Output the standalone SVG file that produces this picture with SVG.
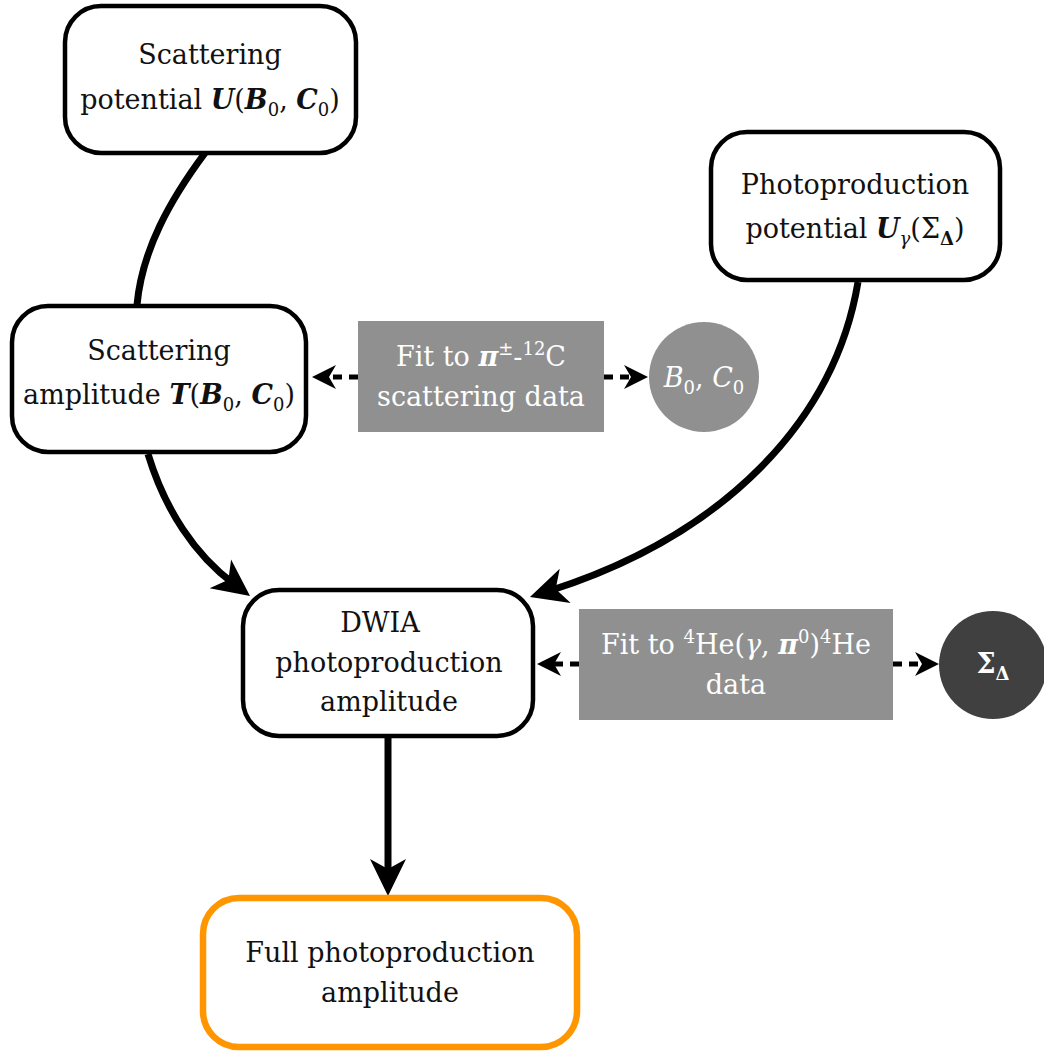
<svg xmlns="http://www.w3.org/2000/svg" width="1044" height="1055" viewBox="0 0 1044 1055">
<style>
.box{fill:#fff;stroke:#000;stroke-width:4.5}
.orange{fill:#fff;stroke:#FF9600;stroke-width:6.5}
.gray{fill:#909090}
.t{font-family:"DejaVu Serif","Liberation Serif",serif;font-size:27px;fill:#111;text-anchor:middle}
.w{fill:#fff}
.m{font-style:italic;font-weight:bold}
.i{font-style:italic}
.s{font-size:18px}
.solid{fill:none;stroke:#000;stroke-width:7}
.dash{fill:none;stroke:#000;stroke-width:5;stroke-dasharray:9 7}
</style>
<defs>
<marker id="big" viewBox="-40 -20 42 40" refX="-20" refY="0" markerWidth="42" markerHeight="40" markerUnits="userSpaceOnUse" orient="auto">
<path d="M0,0 L-37,-18 L-27,0 L-37,18 Z" fill="#000"/>
</marker>
<marker id="small" viewBox="-26 -14 28 28" refX="-12" refY="0" markerWidth="28" markerHeight="28" markerUnits="userSpaceOnUse" orient="auto">
<path d="M0,0 L-24,-12 L-17,0 L-24,12 Z" fill="#000"/>
</marker>
</defs>
<g id="connectors">
<path class="solid" d="M205,153 C170,200 142,250 137,305"/>
<path class="solid" d="M148,454 C165,510 195,555 234,584" marker-end="url(#big)"/>
<path class="solid" d="M858,282 C835,420 725,535 549,591" marker-end="url(#big)"/>
<path class="solid" d="M388,738 L388,876" marker-end="url(#big)"/>
<path class="dash" d="M358,377 L324,377" marker-end="url(#small)"/>
<path class="dash" d="M604,377 L636,377" marker-end="url(#small)"/>
<path class="dash" d="M579,664 L549,664" marker-end="url(#small)"/>
<path class="dash" d="M893,664 L927,664" marker-end="url(#small)"/>
</g>
<g id="scatt-pot">
<rect class="box" x="65" y="6" width="291" height="147" rx="36"/>
<text class="t" x="210" y="64">Scattering</text>
<text class="t" x="210" y="109">potential <tspan class="m">U</tspan>(<tspan class="m">B</tspan><tspan class="s" dy="7">0</tspan><tspan dy="-7">, </tspan><tspan class="m">C</tspan><tspan class="s" dy="7">0</tspan><tspan dy="-7">)</tspan></text>
</g>
<g id="scatt-amp">
<rect class="box" x="12" y="306" width="294" height="146" rx="36"/>
<text class="t" x="159" y="360">Scattering</text>
<text class="t" x="159" y="404">amplitude <tspan class="m">T</tspan>(<tspan class="m">B</tspan><tspan class="s" dy="7">0</tspan><tspan dy="-7">, </tspan><tspan class="m">C</tspan><tspan class="s" dy="7">0</tspan><tspan dy="-7">)</tspan></text>
</g>
<g id="photo-pot">
<rect class="box" x="711" y="132" width="289" height="148" rx="36"/>
<text class="t" x="855" y="194">Photoproduction</text>
<text class="t" x="855" y="238">potential <tspan class="m">U</tspan><tspan class="s i" dy="7">γ</tspan><tspan dy="-7">(Σ</tspan><tspan class="s" dy="7" font-weight="bold">Δ</tspan><tspan dy="-7">)</tspan></text>
</g>
<g id="fit1">
<rect class="gray" x="358" y="321" width="246" height="111"/>
<text class="t w" x="481" y="366">Fit to <tspan class="m">π</tspan><tspan class="s" dy="-11">±</tspan><tspan dy="11">-</tspan><tspan class="s" dy="-11">12</tspan><tspan dy="11">C</tspan></text>
<text class="t w" x="481" y="406">scattering data</text>
</g>
<g id="b0c0">
<circle cx="704" cy="377" r="55" fill="#909090"/>
<text class="t w" x="704" y="387"><tspan class="i">B</tspan><tspan class="s" dy="7">0</tspan><tspan dy="-7">, </tspan><tspan class="i">C</tspan><tspan class="s" dy="7">0</tspan></text>
</g>
<g id="dwia">
<rect class="box" x="243" y="590" width="290" height="146" rx="36"/>
<text class="t" x="380" y="632">DWIA</text>
<text class="t" x="389" y="672">photoproduction</text>
<text class="t" x="389" y="711">amplitude</text>
</g>
<g id="fit2">
<rect class="gray" x="579" y="609" width="314" height="111"/>
<text class="t w" x="736" y="654">Fit to <tspan class="s" dy="-11">4</tspan><tspan dy="11">He(</tspan><tspan class="i">γ</tspan>, <tspan class="m">π</tspan><tspan class="s" dy="-11">0</tspan><tspan dy="11">)</tspan><tspan class="s" dy="-11">4</tspan><tspan dy="11">He</tspan></text>
<text class="t w" x="736" y="694">data</text>
</g>
<g id="sigma">
<circle cx="993" cy="665" r="54" fill="#404040"/>
<text class="t w" x="993" y="673" font-weight="bold">Σ<tspan class="s" dy="7">Δ</tspan></text>
</g>
<g id="full">
<rect class="orange" x="203" y="898" width="374" height="149" rx="36"/>
<text class="t" x="390" y="962">Full photoproduction</text>
<text class="t" x="390" y="1002">amplitude</text>
</g>
</svg>
